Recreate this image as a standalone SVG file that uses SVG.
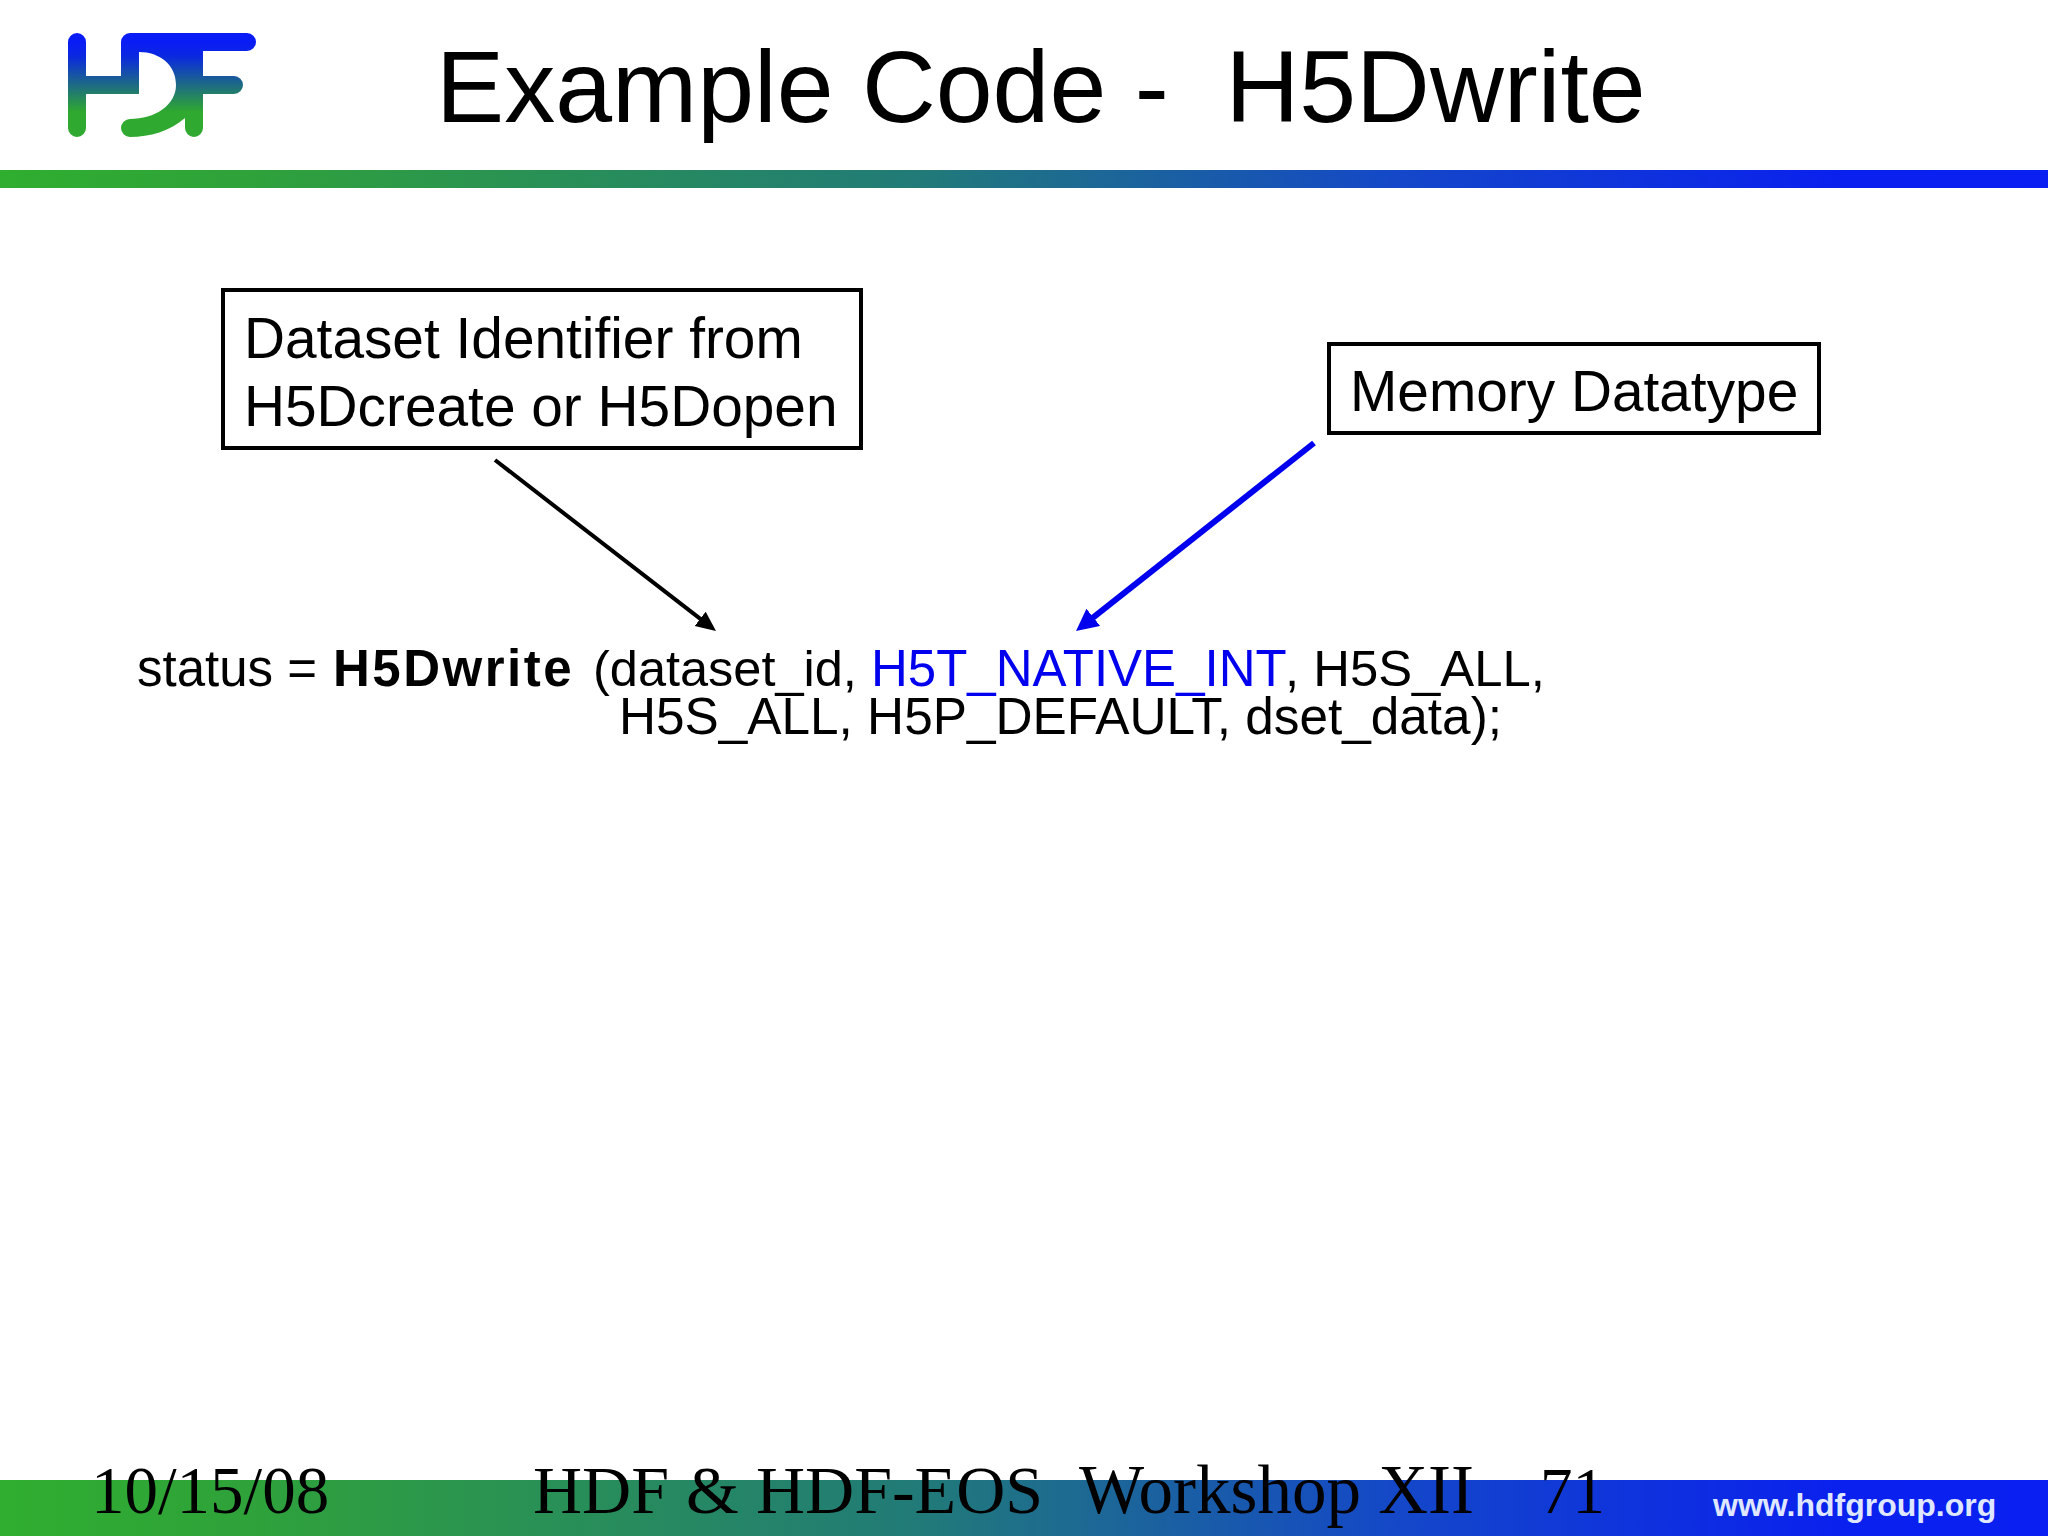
<svg xmlns="http://www.w3.org/2000/svg" width="2048" height="1536" viewBox="0 0 2048 1536">
<style>
.s{font-family:"Liberation Sans",Arial,sans-serif;fill:#000}
.f{font-family:"Liberation Serif","Times New Roman",serif;fill:#000}
.b{fill:#fff;stroke:#000;stroke-width:4}
.l{font-size:57px}
.c{font-size:51px}
.lg{fill:none;stroke:url(#lg);stroke-width:18;stroke-linecap:round}
</style>
<defs>
<linearGradient id="lg" gradientUnits="userSpaceOnUse" x1="0" y1="42" x2="0" y2="112"><stop offset="0" stop-color="#0a1cf5"/><stop offset="0.2" stop-color="#0a28e0"/><stop offset="1" stop-color="#2fa92f"/></linearGradient>
<linearGradient id="bar" x1="0" y1="0" x2="1" y2="0"><stop offset="0" stop-color="#2fae2f"/><stop offset="0.12" stop-color="#2fa23a"/><stop offset="0.45" stop-color="#217a78"/><stop offset="0.68" stop-color="#1448c8"/><stop offset="0.9" stop-color="#0a20ee"/><stop offset="1" stop-color="#0a20f2"/></linearGradient>
<marker id="ak" markerUnits="userSpaceOnUse" markerWidth="22" markerHeight="20" refX="8" refY="9" orient="auto"><path d="M0 0L20 9L0 18Z" fill="#000"/></marker>
<marker id="ab" markerUnits="userSpaceOnUse" markerWidth="24" markerHeight="22" refX="8" refY="11" orient="auto"><path d="M0 0L22 11L0 22Z" fill="#0000ee"/></marker>
</defs>
<rect width="2048" height="1536" fill="#fff"/>
<g id="logo">
<path class="lg" d="M77 42V128M77 85H130M130 42H247M194 42V128M194 85H234M130 42V85"/>
<path d="M121 85H139V94H121Z" fill="url(#lg)"/>
<path d="M139 51H190V118H185C170 131 150 137 130 137A9 9 0 0 1 130 119C155 119 176 105 176 85C176 65 160 52 139 52Z" fill="url(#lg)"/>
</g>
<rect id="top-bar" y="170" width="2048" height="18" fill="url(#bar)"/>
<rect id="bottom-bar" y="1480" width="2048" height="56" fill="url(#bar)"/>
<text id="title" class="s" x="436" y="122" font-size="102.2" xml:space="preserve">Example Code -  H5Dwrite</text>
<g id="box-dataset">
<rect class="b" x="223" y="290" width="638" height="158"/>
<text class="s" x="244" y="358" font-size="56.8">Dataset Identifier from</text>
<text class="s" x="244" y="426" font-size="56.8">H5Dcreate or H5Dopen</text>
</g>
<g id="box-memory">
<rect class="b" x="1329" y="344" width="490" height="89"/>
<text class="s" x="1350" y="411" font-size="56.8">Memory Datatype</text>
</g>
<g id="connectors">
<line x1="495" y1="460" x2="706.5" y2="623.7" stroke="#000" stroke-width="4" marker-end="url(#ak)"/>
<line x1="1314" y1="443" x2="1087" y2="622.3" stroke="#0000ee" stroke-width="6" marker-end="url(#ab)"/>
</g>
<g id="code">
<text class="s c" y="686"><tspan x="137">status =</tspan><tspan x="333" font-weight="bold" letter-spacing="2.5">H5Dwrite</tspan><tspan x="593" font-size="50.5">(dataset_id,</tspan><tspan x="871" fill="#0000ee">H5T_NATIVE_INT</tspan><tspan x="1285" font-size="50.8">, H5S_ALL,</tspan></text>
<text class="s" x="619" y="734" font-size="51.3">H5S_ALL, H5P_DEFAULT, dset_data);</text>
</g>
<g id="footer">
<text class="f" x="91" y="1513" font-size="67">10/15/08</text>
<text class="f" x="533" y="1513" font-size="68">HDF &amp; HDF-EOS</text>
<text class="f" x="1079" y="1513" font-size="69">Workshop XII</text>
<text class="f" x="1540" y="1513" font-size="65">71</text>
<text x="1713" y="1516" font-family="'Liberation Sans',sans-serif" font-weight="bold" font-size="32" fill="#dfe6ff">www.hdfgroup.org</text>
</g>
</svg>
